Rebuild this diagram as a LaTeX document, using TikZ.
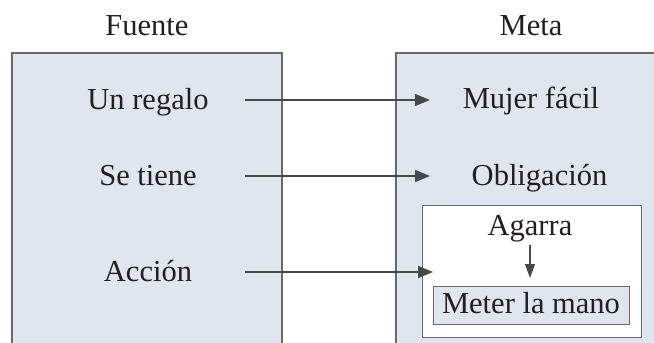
\documentclass[tikz,border=0pt]{standalone}
\usepackage{fontspec}
\setmainfont{Liberation Serif}
\usetikzlibrary{arrows.meta}
\definecolor{panel}{RGB}{223,230,240}
\definecolor{edge}{RGB}{105,105,105}
\definecolor{ink}{RGB}{35,31,32}
\definecolor{arrowgray}{RGB}{72,72,72}
\tikzset{
  panelbox/.style={draw=edge, line width=1.4pt, fill=panel},
  innerbox/.style={draw=edge, line width=1.2pt, fill=white},
  label/.style={font=\fontsize{30.5}{36}\selectfont, text=ink, inner sep=0pt,
    text height=22pt, text depth=4pt, anchor=base},
  srclabel/.style={label, minimum width=194pt},
  arr/.style={draw=arrowgray, line width=1.4pt,
    -{Triangle[length=15pt,width=12pt]}},
}
\begin{document}
\begin{tikzpicture}[x=1pt,y=-1pt]
  \useasboundingbox (0,0) rectangle (654,343);
  \clip (0,0) rectangle (654,343);

  % source and target panels (they run past the lower edge)
  \draw[panelbox] (12,53) rectangle (282,360);
  \draw[panelbox] (396,53) rectangle (680,360);

  % headings
  \node[label] (fuente) at (147,35) {Fuente};
  \node[label] (meta) at (531,35) {Meta};

  % source domain
  \node[srclabel] (regalo) at (148,109) {Un regalo};
  \node[srclabel] (tiene) at (148,185) {Se tiene};
  \node[srclabel] (accion) at (148,281) {Acción};

  % target domain
  \node[label] (mujer) at (531,108) {Mujer fácil};
  \node[label] (oblig) at (539.5,185) {Obligación};

  % nested frame for the action
  \node[innerbox, minimum width=219pt, minimum height=132pt, inner sep=0pt,
        anchor=north west] (marco) at (422,205) {};
  \node[label] (agarra) at (530,235) {Agarra};
  \node[draw=edge, line width=1.2pt, fill=panel, minimum width=196pt,
        minimum height=38pt, inner sep=0pt, anchor=north west] (meter) at (433,286) {};
  \node[label] (metert) at (531,313) {Meter la mano};

  % mappings
  \coordinate (tipx) at (430,0);
  \draw[arr] (regalo.east) -- (regalo.east -| tipx);
  \draw[arr] (tiene.east) -- (tiene.east -| tipx);
  \draw[arr] (accion.east) -- ([xshift=11pt]marco.west |- accion.east);
  \draw[arr, line width=1.2pt, -{Triangle[length=14pt,width=10pt]}]
    ([yshift=-10pt]agarra.base) -- ([yshift=8pt]meter.north -| agarra.base);
\end{tikzpicture}
\end{document}
